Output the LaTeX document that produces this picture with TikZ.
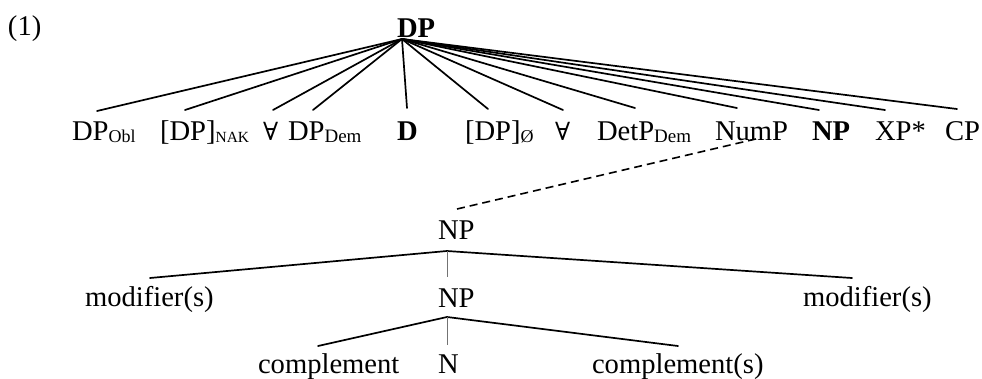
\documentclass[tikz,border=0pt]{standalone}
\usepackage{fontspec}
\setmainfont{Liberation Serif}
\newfontfamily\symfont{DejaVu Serif}
\newcommand\subtxt[2][18]{\raisebox{-2pt}{\fontsize{#1}{#1}\selectfont #2}}
\newcommand\allq{{\symfont\fontsize{25}{30}\selectfont ∀}}
\begin{document}
\begin{tikzpicture}[x=1pt,y=-1pt,
  lbl/.style={anchor=base west,inner sep=0pt,outer sep=0pt,font=\fontsize{28.6}{34}\selectfont},
  branch/.style={line width=1.7pt,line cap=round},
  stem/.style={line width=1pt,draw=black!55},
  dashline/.style={line width=1.6pt,dash pattern=on 8pt off 5pt}]
\useasboundingbox (0,0) rectangle (982,378);
% example number and root
\node[lbl] (ex) at (8,35) {(1)};
\node[lbl] (root) at (397,37) {\textbf{DP}};
\coordinate (r) at (402,39);
% top leaves
\node[lbl] (l1) at (72,140) {DP\subtxt{Obl}};
\node[lbl] (l2) at (160,140) {[DP]\subtxt[15.5]{NAK}};
\node[lbl] (l3) at (263,140) {\allq};
\node[lbl] (l4) at (288,140) {DP\subtxt[19]{Dem}};
\node[lbl] (l5) at (397,140) {\textbf{D}};
\node[lbl] (l6) at (465,140) {[DP]\subtxt{Ø}};
\node[lbl] (l7) at (555,140) {\allq};
\node[lbl] (l8) at (597,140) {DetP\subtxt[19]{Dem}};
\node[lbl] (l9) at (715,140) {NumP};
\node[lbl] (l10) at (812,140) {\textbf{NP}};
\node[lbl] (l11) at (875,140) {XP*};
\node[lbl] (l12) at (945,140) {CP};
% tips of the top branches
\coordinate (t1) at (97,111);
\coordinate (t2) at (185,110);
\coordinate (t3) at (273,110);
\coordinate (t4) at (313,110);
\coordinate (t5) at (407,108);
\coordinate (t6) at (488,109);
\coordinate (t7) at (563,110);
\coordinate (t8) at (635,108);
\coordinate (t9) at (737,108);
\coordinate (t10) at (819,110);
\coordinate (t11) at (885,110);
\coordinate (t12) at (957,109);
\foreach \i in {1,...,12} \draw[branch] (r) -- (t\i);
% lower tree
\node[lbl] (np1) at (438,239) {NP};
\coordinate (d1) at (457,209);
\coordinate (d2) at (760,138);
\draw[dashline] (d1) -- (d2);
\coordinate (a1) at (447,251);
\coordinate (m1) at (150,278);
\coordinate (m2) at (852,278);
\coordinate (v1) at (447,277);
\draw[branch] (m1) -- (a1) -- (m2);
\draw[stem] (a1) -- (v1);
\node[lbl] (mod1) at (85,306) {modifier(s)};
\node[lbl] (np2) at (438,307) {NP};
\node[lbl] (mod2) at (803,306) {modifier(s)};
\coordinate (a2) at (447,317);
\coordinate (c1) at (318,346);
\coordinate (c2) at (678,346);
\coordinate (v2) at (447,345);
\draw[branch] (c1) -- (a2) -- (c2);
\draw[stem] (a2) -- (v2);
\node[lbl] (comp1) at (258,373) {complement};
\node[lbl] (n) at (438,373) {N};
\node[lbl] (comp2) at (592,373) {complement(s)};
\end{tikzpicture}
\end{document}
